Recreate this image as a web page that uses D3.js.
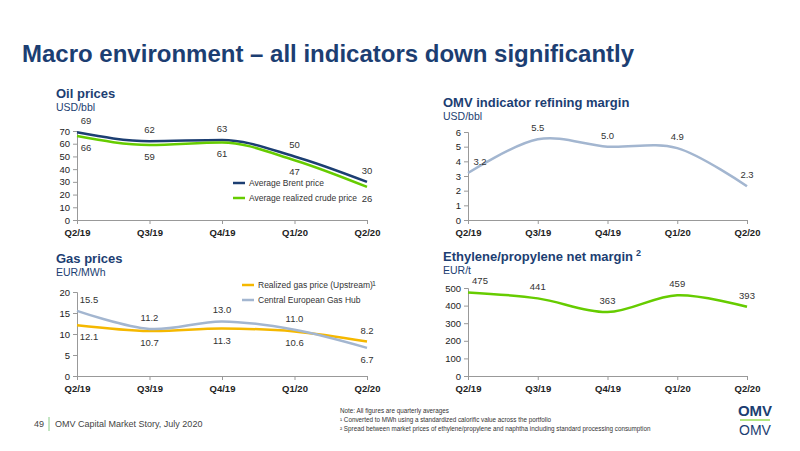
<!DOCTYPE html>
<html><head><meta charset="utf-8">
<script src="https://cdn.jsdelivr.net/npm/d3@7"></script>
<style>body{margin:0;background:#fff;font-family:"Liberation Sans",Arial,sans-serif}</style>
</head><body><svg id="c" width="800" height="451"></svg>
<script>
const quarters=["Q2/19","Q3/19","Q4/19","Q1/20","Q2/20"];
const brent=[69,62,63,50,30];
const crude=[66,59,61,47,26];
const refining=[3.2,5.5,5.0,4.9,2.3];
const gasRealized=[12.1,10.7,11.3,10.6,8.2];
const gasHub=[15.5,11.2,13.0,11.0,6.7];
const ethylene=[475,441,363,459,393];
const oilTicks=[0,10,20,30,40,50,60,70];
const refTicks=[0,1,2,3,4,5,6];
const gasTicks=[0,5,10,15,20];
const ethTicks=[0,100,200,300,400,500];

const svg=d3.select("#c");
const navy="#1c3e72", dark="#333";
svg.append("text").attr("x",22).attr("y",62).attr("font-size",24).attr("font-weight","bold").attr("fill",navy)
  .text("Macro environment – all indicators down significantly");

function panel(o){
  const g=svg.append("g");
  const tt=g.append("text").attr("x",o.tx).attr("y",o.ty).attr("font-size",13).attr("font-weight","bold").attr("fill",navy).text(o.title);
  if(o.sup) tt.append("tspan").attr("dy",-5).attr("dx",3).attr("font-size",9).text(o.sup);
  g.append("text").attr("x",o.tx).attr("y",o.ty+13).attr("font-size",10.5).attr("fill",navy).text(o.unit);
  const x=d3.scalePoint().domain(quarters).range([o.x0,o.x1]);
  const y=d3.scaleLinear().domain([0,o.ymax]).range([o.yb,o.yt]);
  const ya=g.append("g").attr("transform",`translate(${o.x0},0)`).call(d3.axisLeft(y).tickValues(o.ticks).tickSize(4).tickFormat(d3.format("d")));
  const xa=g.append("g").attr("transform",`translate(0,${o.yb})`).call(d3.axisBottom(x).tickSize(4).tickSizeOuter(0));
  [ya,xa].forEach(a=>{a.selectAll("path,line").attr("stroke","#999");a.selectAll("text").attr("fill","#222").attr("font-size",9.5).attr("font-family","Liberation Sans")});
  xa.selectAll("text").attr("font-weight","bold").attr("dy","0.9em");
  o.series.forEach(s=>{
    const line=d3.line().x((d,i)=>x(quarters[i])).y(d=>y(d)).curve(o.curve);
    g.append("path").attr("d",line(s.v)).attr("fill","none").attr("stroke",s.c).attr("stroke-width",2.5);
    s.v.forEach((d,i)=>{
      const dx=s.dx?s.dx[i]:0;
      const up=s.above[i];
      g.append("text").attr("x",x(quarters[i])+dx).attr("y",y(d)+(up?-8:15)).attr("text-anchor","middle")
        .attr("font-size",9.5).attr("fill",dark).text(s.fmt?s.fmt(d):d);
    });
  });
  return {g,x,y};
}
const f1=d3.format(".1f");
const A=[1,1,1,1,1], B=[0,0,0,0,0];
const p1=panel({tx:56,ty:98,title:"Oil prices",unit:"USD/bbl",x0:77,x1:367,yb:220,yt:131,ymax:70,ticks:oilTicks,curve:d3.curveMonotoneX,
 series:[{v:brent,c:navy,above:A,dx:[9,0,0,0,0]},{v:crude,c:"#66cc00",above:B,dx:[9,0,0,0,0]}]});
[["Average Brent price",navy,186],["Average realized crude price","#66cc00",201]].forEach(([t,c,yy])=>{
  p1.g.append("line").attr("x1",233).attr("x2",245).attr("y1",yy-3).attr("y2",yy-3).attr("stroke",c).attr("stroke-width",2.5);
  p1.g.append("text").attr("x",249).attr("y",yy).attr("font-size",8.5).attr("fill",dark).text(t);
});
panel({tx:443,ty:107,title:"OMV indicator refining margin",unit:"USD/bbl",x0:468,x1:747,yb:220,yt:132,ymax:6,ticks:refTicks,curve:d3.curveCardinal,
 series:[{v:refining,c:"#a3b6d0",above:A,fmt:f1,dx:[12,0,0,0,0]}]});
const p3=panel({tx:56,ty:263,title:"Gas prices",unit:"EUR/MWh",x0:77,x1:367,yb:376,yt:292,ymax:20,ticks:gasTicks,curve:d3.curveCardinal,
 series:[{v:gasRealized,c:"#f5b800",above:[0,0,0,0,1],fmt:f1,dx:[12,0,0,0,0]},{v:gasHub,c:"#a3b6d0",above:[1,1,1,1,0],fmt:f1,dx:[12,0,0,0,0]}]});
[["Realized gas price (Upstream)","#f5b800",288],["Central European Gas Hub","#a3b6d0",303]].forEach(([t,c,yy])=>{
  p3.g.append("line").attr("x1",242).attr("x2",254).attr("y1",yy-3).attr("y2",yy-3).attr("stroke",c).attr("stroke-width",2.5);
  p3.g.append("text").attr("x",258).attr("y",yy).attr("font-size",8.5).attr("fill",dark).text(t);
});
p3.g.append("text").attr("x",372).attr("y",286).attr("font-size",7).attr("fill",dark).text("1");
panel({tx:443,ty:261,title:"Ethylene/propylene net margin",sup:"2",unit:"EUR/t",x0:468,x1:747,yb:376,yt:288,ymax:500,ticks:ethTicks,curve:d3.curveCardinal,
 series:[{v:ethylene,c:"#66cc00",above:A,dx:[12,0,0,0,0]}]});

svg.append("text").attr("x",34).attr("y",427).attr("font-size",9).attr("fill","#444").text("49");
svg.append("line").attr("x1",49).attr("x2",49).attr("y1",417).attr("y2",431).attr("stroke","#8c8");
svg.append("text").attr("x",55).attr("y",427).attr("font-size",9).attr("fill","#444").text("OMV Capital Market Story, July 2020");
const notes=["Note: All figures are quarterly averages","¹ Converted to MWh using a standardized calorific value across the portfolio","² Spread between market prices of ethylene/propylene and naphtha including standard processing consumption"];
notes.forEach((t,i)=>svg.append("text").attr("x",340).attr("y",413+i*9).attr("font-size",6.3).attr("fill","#333").text(t));
svg.append("text").attr("x",755).attr("y",416).attr("text-anchor","middle").attr("font-size",15).attr("font-weight","bold").attr("fill",navy).text("OMV");
svg.append("line").attr("x1",740).attr("x2",770).attr("y1",420).attr("y2",420).attr("stroke","#66cc00").attr("stroke-width",1);
svg.append("text").attr("x",755).attr("y",435).attr("text-anchor","middle").attr("font-size",14).attr("fill",navy).text("OMV");
</script></body></html>
